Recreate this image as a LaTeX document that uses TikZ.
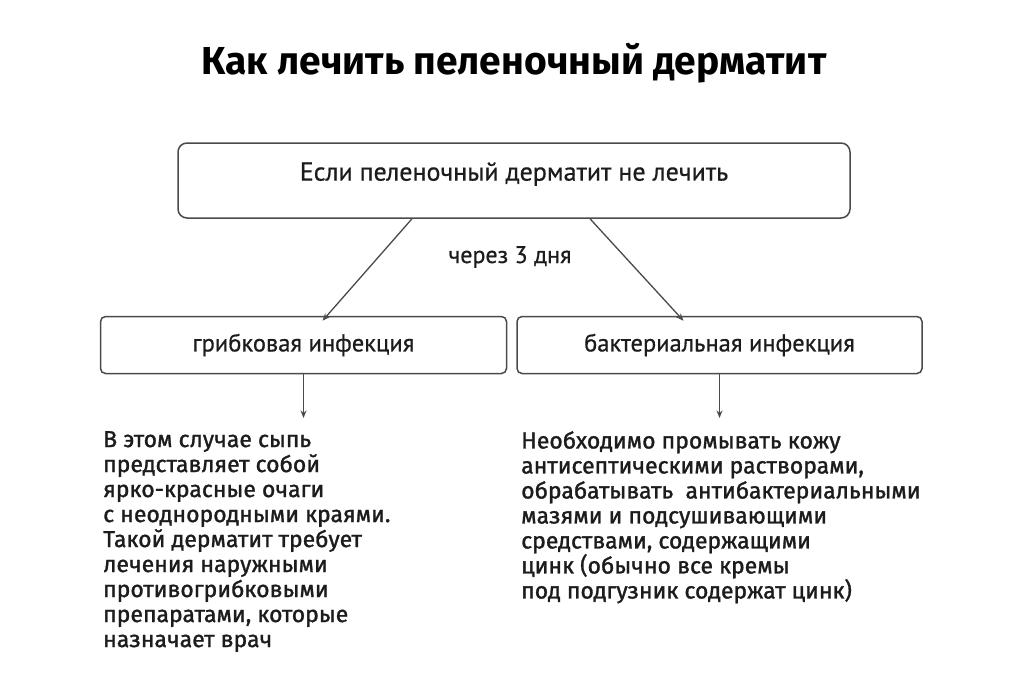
\documentclass[tikz,border=0pt]{standalone}
\usepackage{fontspec}
\setmainfont{Fira Sans}
\newfontfamily\bodyfont{Fira Sans}[FakeBold=1.3]
\newfontfamily\boxfont{PT Sans}[FakeBold=0.6]
\usetikzlibrary{arrows.meta,positioning}
\definecolor{linegray}{HTML}{4A4A4A}
\definecolor{textdark}{HTML}{1C1C1C}

\begin{document}
\begin{tikzpicture}[x=1pt,y=-1pt,
		box/.style={draw=linegray,line width=1.5pt,rounded corners=5pt,inner sep=0pt,
			font=\boxfont\fontsize{24.5}{28}\selectfont,text=textdark},
		body/.style={align=left,inner sep=0pt,anchor=north west,text=textdark,
			font=\bodyfont\fontsize{23}{25}\selectfont},
		>={Stealth[length=7.5pt,width=6pt]}]
	\useasboundingbox[fill=white] (0,0) rectangle (1024,699);
	
	\node (title) at (514,63) {\fontsize{39}{44}\selectfont\bfseries Как лечить пеленочный дерматит};
	
	\node [box,rounded corners=9pt,minimum width=672pt,minimum height=75pt,text depth=18pt,
		font=\boxfont\fontsize{26}{30}\selectfont] (root) at (514,180.5) {Если пеленочный дерматит не лечить};
	\node [box,minimum width=406pt,minimum height=57pt] (fung) at (303.5,345) {грибковая инфекция};
	\node [box,minimum width=405pt,minimum height=57pt,right=9pt of fung] (bact) {бактериальная инфекция};
	
	\node [font=\boxfont\fontsize{24}{28}\selectfont,text=textdark] (days) at (510,257) {через 3 дня};
	
	\node [body] (ftext) at (103,431) {В этом случае сыпь\\представляет собой\\ярко-красные очаги\\с неоднородными краями.\\Такой дерматит требует\\лечения наружными\\противогрибковыми\\препаратами, которые\\назначает врач};
	\node [body] (btext) at (521,431) {Необходимо промывать кожу\\антисептическими растворами,\\обрабатывать\ \ антибактериальными\\мазями и подсушивающими\\средствами, содержащими\\цинк (обычно все кремы\\под подгузник содержат цинк)};
	
	\begin{scope}[draw=linegray,line width=1.3pt]
		\draw [->] ([xshift=-102pt]root.south) -- ([xshift=19pt,yshift=-5pt]fung.north);
		\draw [->] ([xshift=76pt]root.south) -- ([xshift=-36pt,yshift=-5pt]bact.north);
		\draw [->,shorten >=13pt] (fung.south) -- (fung.south |- ftext.north);
		\draw [->,shorten >=13pt] (bact.south) -- (bact.south |- btext.north);
	\end{scope}
\end{tikzpicture}
\end{document}
